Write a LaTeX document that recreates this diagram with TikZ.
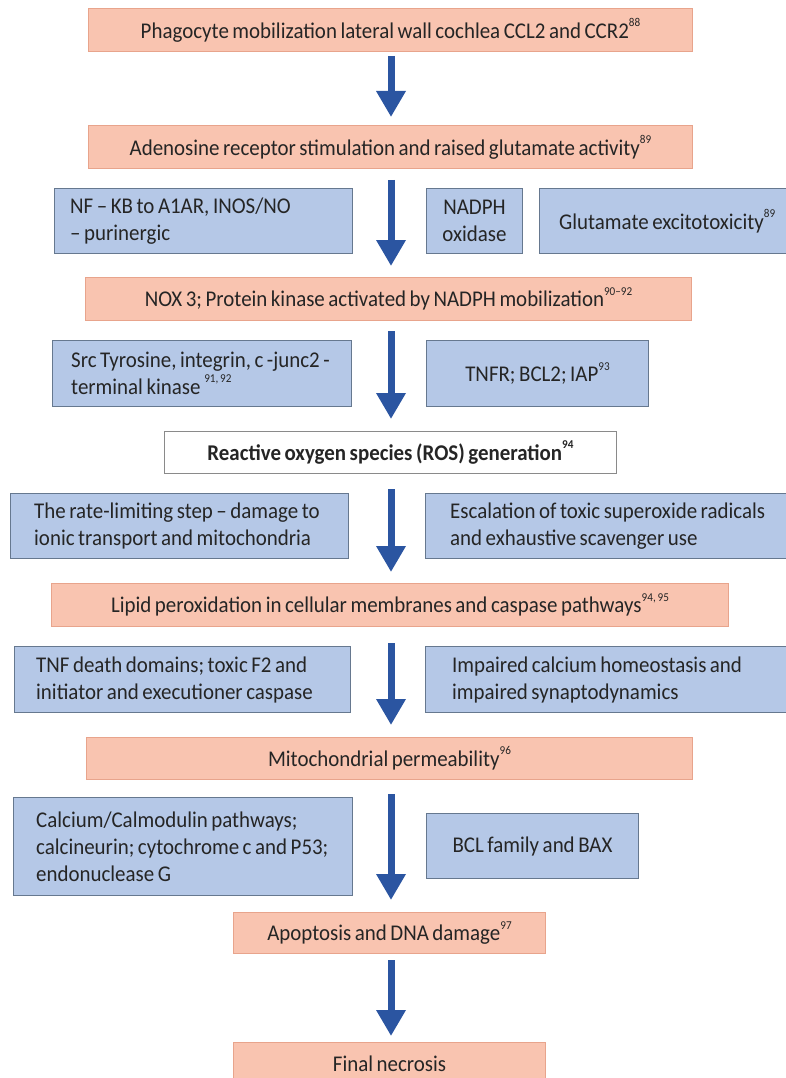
\documentclass[tikz,border=0pt]{standalone}
\usepackage{fontspec}
\setmainfont[FakeStretch=0.93,WordSpace=0.75]{Carlito}
\usetikzlibrary{arrows.meta}
\definecolor{pfill}{HTML}{F9C4B0}
\definecolor{pdraw}{HTML}{E8A48C}
\definecolor{bfill}{HTML}{B5C8E7}
\definecolor{bdraw}{HTML}{66788F}
\definecolor{arr}{HTML}{2B55A1}
\definecolor{txt}{HTML}{252525}
\definecolor{wdraw}{HTML}{8A8A8A}
\newcommand\refn[1]{\raisebox{0.52em}{\fontsize{12}{12}\selectfont #1}}
\begin{document}
\begin{tikzpicture}[x=1pt,y=-1pt,
  every node/.style={font=\fontsize{22.5}{27}\selectfont, text=txt},
  pbox/.style={draw=pdraw, fill=pfill, line width=1pt, inner sep=0pt, align=center, anchor=north west},
  wbox/.style={draw=wdraw, fill=white, line width=1pt, inner sep=0pt, align=center, anchor=north west},
  bshape/.style={draw=bdraw, fill=bfill, line width=1pt, inner sep=0pt, anchor=north west},
  bboxc/.style={bshape, align=center},
  btext/.style={inner sep=0pt, align=left, anchor=west},
  flow/.style={draw=arr, line width=7pt, -{Triangle[width=28pt,length=26pt]}}
]
\useasboundingbox (0,0) rectangle (786,1078);
\coordinate (ax) at (391,0);

% main chain
\node[pbox, minimum width=604, minimum height=43] (p1) at (88,8) {Phagocyte mobilization lateral wall cochlea CCL2 and CCR2\refn{88}};
\node[pbox, minimum width=604, minimum height=43] (p2) at (88,125) {Adenosine receptor stimulation and raised glutamate activity\refn{89}};
\node[pbox, minimum width=606, minimum height=43] (p3) at (85,277) {NOX 3; Protein kinase activated by NADPH mobilization\refn{90--92}};
\node[wbox, minimum width=452, minimum height=42] (p4) at (164,431) {\bfseries Reactive oxygen species (ROS) generation\refn{94}};
\node[pbox, minimum width=677, minimum height=43] (p5) at (51,583) {Lipid peroxidation in cellular membranes and caspase pathways\refn{94, 95}};
\node[pbox, minimum width=606, minimum height=42] (p6) at (86,737) {Mitochondrial permeability\refn{96}};
\node[pbox, minimum width=312, minimum height=41] (p7) at (233,912) {Apoptosis and DNA damage\refn{97}};
\node[pbox, minimum width=312, minimum height=42] (p8) at (233,1042) {Final necrosis};

% side boxes
\node[bshape, minimum width=298, minimum height=65] (a1) at (54,188) {};
\node[btext] (a1t) at ([xshift=16pt]a1.west) {NF -- KB to A1AR, INOS/NO\\-- purinergic};
\node[bboxc, minimum width=96, minimum height=65] (a2) at (426,188) {NADPH\\oxidase};
\node[bshape, minimum width=260, minimum height=65] (a3) at (539,188) {};
\node[btext] (a3t) at ([xshift=20pt]a3.west) {Glutamate excitotoxicity\refn{89}};

\node[bshape, minimum width=299, minimum height=66] (b1) at (52,340) {};
\node[btext] (b1t) at ([xshift=19pt]b1.west) {Src Tyrosine, integrin, c -junc2 -\\terminal kinase\,\refn{91, 92}};
\node[bboxc, minimum width=222, minimum height=66] (b2) at (426,340) {TNFR; BCL2; IAP\refn{93}};

\node[bshape, minimum width=338, minimum height=65] (c1) at (10,493) {};
\node[btext] (c1t) at ([xshift=24pt]c1.west) {The rate-limiting step -- damage to\\ionic transport and mitochondria};
\node[bshape, minimum width=380, minimum height=65] (c2) at (425,493) {};
\node[btext] (c2t) at ([xshift=25pt]c2.west) {Escalation of toxic superoxide radicals\\and exhaustive scavenger use};

\node[bshape, minimum width=336, minimum height=66] (d1) at (14,646) {};
\node[btext] (d1t) at ([xshift=22pt]d1.west) {TNF death domains; toxic F2 and\\initiator and executioner caspase};
\node[bshape, minimum width=380, minimum height=66] (d2) at (425,646) {};
\node[btext] (d2t) at ([xshift=27pt]d2.west) {Impaired calcium homeostasis and\\impaired synaptodynamics};

\node[bshape, minimum width=339, minimum height=98] (e1) at (13,797) {};
\node[btext] (e1t) at ([xshift=23pt]e1.west) {Calcium/Calmodulin pathways;\\calcineurin; cytochrome c and P53;\\endonuclease G};
\node[bboxc, minimum width=212, minimum height=65] (e2) at (426,813) {BCL family and BAX};

% arrows
\draw[flow, shorten <=4pt, shorten >=8pt] (p1.south -| ax) -- (p2.north -| ax);
\draw[flow, shorten <=11pt, shorten >=11pt] (p2.south -| ax) -- (p3.north -| ax);
\draw[flow, shorten <=10pt, shorten >=12pt] (p3.south -| ax) -- (p4.north -| ax);
\draw[flow, shorten <=15pt, shorten >=11pt] (p4.south -| ax) -- (p5.north -| ax);
\draw[flow, shorten <=16pt, shorten >=12pt] (p5.south -| ax) -- (p6.north -| ax);
\draw[flow, shorten <=14pt, shorten >=12pt] (p6.south -| ax) -- (p7.north -| ax);
\draw[flow, shorten <=6pt, shorten >=6pt] (p7.south -| ax) -- (p8.north -| ax);
\end{tikzpicture}
\end{document}
